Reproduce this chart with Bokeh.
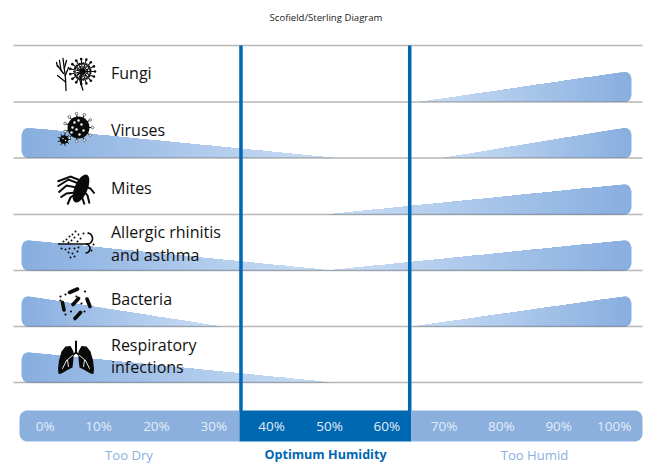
import numpy as np
from bokeh.plotting import figure
from bokeh.models import Range1d
from bokeh.core.properties import value
from bokeh.embed import file_html
from bokeh.resources import INLINE

# ---- data ----
factors = ["Fungi", "Viruses", "Mites", "Allergic rhinitis and asthma", "Bacteria", "Respiratory infections"]
dry_zero = [None, 50.7, None, 50.0, 30.8, 50.0]       # humidity where the dry-side risk reaches zero
humid_zero = [66.0, 70.0, 49.8, 50.0, 64.8, None]     # humidity where the humid-side risk begins
tick_values = [0.4, 9.7, 19.8, 29.8, 39.9, 50.0, 60.0, 70.0, 80.0, 90.0, 99.7]
tick_labels = ["0%", "10%", "20%", "30%", "40%", "50%", "60%", "70%", "80%", "90%", "100%"]
zone_names = ["Too Dry", "Optimum Humidity", "Too Humid"]
opt_low, opt_high = 34.55, 64.0

FONT = "Open Sans"
BLUE = "#0067b1"
LIGHT = "#8bb0de"
TIP = (205, 224, 246)
EDGE = (137, 175, 224)

PX = 5.73
def hum(px):
    return 50 + (np.asarray(px, dtype=float) - 329) / PX

p = figure(width=646, height=463, output_backend="svg", toolbar_location=None,
           x_range=Range1d(float(hum(0)), float(hum(646))), y_range=Range1d(463, 0),
           min_border=0, x_axis_type=None, y_axis_type=None)
p.extra_x_ranges["px"] = Range1d(0, 646)
p.grid.visible = False
p.outline_line_color = None
p.background_fill_color = "white"

row_top = 45.0
baselines = [101.5, 157.5, 214.0, 270.0, 326.0, 382.0]
WEDGE_H = 30.0


def wedge_strips(outer, tip, base):
    """Slices of a rounded wedge, painted from the wide end to the tip so that no seam shows."""
    sign = 1 if tip > outer else -1
    span = abs(tip - outer)
    r = 6.5
    d = np.linspace(0, span, 160)
    line = base - WEDGE_H * (1 - np.clip(d - r, 0, None) / (span - r))
    arc = np.sqrt(np.clip(r**2 - (r - np.clip(d, 0, r))**2, 0, None))
    top = np.where(d < r, base - WEDGE_H + r - arc, line)
    bot = np.where(d < r, base - r + arc, base)
    xs, ys, cs = [], [], []
    n = int(span / 4)
    for k in range(n):
        t = k / n
        m = d >= t * span
        xs.append(hum(outer + sign * d[m]).tolist() + hum(outer + sign * d[m][::-1]).tolist())
        ys.append(top[m].tolist() + bot[m][::-1].tolist())
        c = [int(EDGE[i] + (TIP[i] - EDGE[i]) * t) for i in range(3)]
        cs.append("#%02x%02x%02x" % tuple(c))
    return xs, ys, cs


HUM_TO_PX = lambda h: 329 + PX * (h - 50)
for b, dz, hz in zip(baselines, dry_zero, humid_zero):
    if dz is not None:
        xs, ys, cs = wedge_strips(21.0, HUM_TO_PX(dz), b)
        p.patches(xs, ys, fill_color=cs, line_color=None)
    if hz is not None:
        xs, ys, cs = wedge_strips(631.0, HUM_TO_PX(hz), b)
        p.patches(xs, ys, fill_color=cs, line_color=None)

# row rules
for y in [row_top] + baselines:
    p.line([13, 642], [y, y], x_range_name="px", line_color="#6f6f6f", line_alpha=0.5, line_width=1.5)

# optimum zone boundaries
for h in (opt_low, opt_high):
    p.line([h, h], [45, 411], line_color=BLUE, line_width=3.5)


# scale bar
def rounded_bar(x0, x1, y0, y1, r, left, right):
    a = np.linspace(0, np.pi / 2, 10)
    xs, ys = [], []
    if left:
        xs += list(x0 + r - r * np.cos(a)); ys += list(y0 + r - r * np.sin(a))
    else:
        xs += [x0]; ys += [y0]
    if right:
        xs += list(x1 - r + r * np.sin(a)); ys += list(y0 + r - r * np.cos(a))
        xs += list(x1 - r + r * np.cos(a)); ys += list(y1 - r + r * np.sin(a))
    else:
        xs += [x1, x1]; ys += [y0, y1]
    if left:
        xs += list(x0 + r - r * np.sin(a)); ys += list(y1 - r + r * np.cos(a))
    else:
        xs += [x0]; ys += [y1]
    return xs, ys

lo, hi = HUM_TO_PX(opt_low) - 1.5, HUM_TO_PX(opt_high) + 1.7
for x0, x1, c, l, r in [(19, lo, LIGHT, True, False), (lo, hi, BLUE, False, False), (hi, 642, LIGHT, False, True)]:
    bx, by = rounded_bar(x0, x1, 410, 441, 8, l, r)
    p.patch(bx, by, x_range_name="px", fill_color=c, line_color=None)

p.text(tick_values, [425] * 11, text=tick_labels, text_font=value(FONT), text_font_size="13.5px",
       text_color="#e3ecf8", text_align="center", text_baseline="middle")

# title and zones
p.text([325.5], [16.5], text=["Scofield/Sterling Diagram"], x_range_name="px", text_font=value(FONT),
       text_font_size="9.6px", text_color="#222222", text_align="center", text_baseline="middle")
p.text([128.5, 534], [454, 454], text=[zone_names[0], zone_names[2]], x_range_name="px", text_font=value(FONT),
       text_font_size="13.1px", text_color=LIGHT, text_align="center", text_baseline="middle")
p.text([325], [454], text=[zone_names[1]], x_range_name="px", text_font=value(FONT), text_font_style="bold",
       text_font_size="12.6px", text_color=BLUE, text_align="center", text_baseline="middle")

# row names
name_lines = [("Fungi", 72), ("Viruses", 129), ("Mites", 187), ("Allergic rhinitis", 231), ("and asthma", 254),
              ("Bacteria", 298), ("Respiratory", 344), ("infections", 366)]
p.text([110.5] * 8, [n[1] for n in name_lines], text=[n[0] for n in name_lines], x_range_name="px",
       text_font=value(FONT), text_font_size="16px", text_color="#111111", text_align="left", text_baseline="middle")


# ---- pictograms ----
K = "#0a0a0a"
def seg(pairs, w=1.5, c=K):
    p.multi_line([[a[0], a[2]] for a in pairs], [[a[1], a[3]] for a in pairs], x_range_name="px",
                 line_color=c, line_width=w, line_cap="round")
def dots(pts, r=1.0, c=K):
    p.circle([a[0] for a in pts], [a[1] for a in pts], radius=r, radius_units="screen", x_range_name="px",
             fill_color=c, line_color=None)

# fungi: branching mould
seg([(65.5, 90, 65, 78), (65, 78, 62.5, 58), (57, 65, 63, 73), (57, 75, 64.5, 81), (66, 60, 63.8, 68),
     (68, 67, 64.8, 75), (57, 66, 56, 62), (59, 60, 60.5, 70)], 1.3)
# fungi: spore head
ang = np.arange(0, 2 * np.pi, 2 * np.pi / 15)
seg([(82, 71, 82 + 12 * np.cos(a), 71 + 12 * np.sin(a)) for a in ang], 1.1)
dots([(82 + 12.5 * np.cos(a), 71 + 12.5 * np.sin(a)) for a in ang], 1.3)
dots([(82 + 8 * np.cos(a + .2), 71 + 8 * np.sin(a + .2)) for a in ang], 1.2)
dots([(82 + 5 * np.cos(a + .1), 71 + 5 * np.sin(a + .1)) for a in ang[::2]], 1.0)
dots([(82, 71)], 3)
p.line([81, 79.5, 81, 82.5], [73, 80, 85, 90], x_range_name="px", line_color=K, line_width=1.3)

# viruses
ang = np.arange(0, 2 * np.pi, 2 * np.pi / 11)
seg([(78 + 10 * np.cos(a), 127 + 10 * np.sin(a), 78 + 13 * np.cos(a), 127 + 13 * np.sin(a)) for a in ang], 1.0)
p.circle([78 + 14 * np.cos(a) for a in ang], [127 + 14 * np.sin(a) for a in ang], radius=1.3, radius_units="screen",
         x_range_name="px", fill_color="white", line_color="#555555", line_width=0.8)
dots([(78, 127)], 11)
dots([(81, 124), (74, 122), (83, 130), (76, 129), (72, 127), (79, 134), (78, 120), (71, 132)], 1.2, "white")
ang = np.arange(0, 2 * np.pi, 2 * np.pi / 9)
seg([(63.5, 139, 63.5 + 6.2 * np.cos(a), 139 + 6.2 * np.sin(a)) for a in ang], 0.9)
dots([(63.5, 139)], 4.3)
dots([(62.5, 138), (65, 140)], 0.7, "white")

# mites
p.ellipse([80.5], [188], width=[30], height=[13], angle=[1.17], x_range_name="px", fill_color=K, line_color=None)
legs = [[(80, 180, 70, 176, 57, 181)], [(78, 183, 68, 179, 57, 186)], [(76, 187, 66, 185, 58, 192)],
        [(75, 192, 66, 193, 60, 197)], [(76, 193, 70, 197, 67, 204)], [(84, 186, 90, 188, 94, 193)],
        [(83, 190, 87, 195, 89, 203)], [(81, 193, 82, 198, 84, 204)]]
for l in legs:
    a = l[0]
    p.line([a[0], a[2], a[4]], [a[1], a[3], a[5]], x_range_name="px", line_color=K, line_width=2.0, line_join="miter")

# allergic rhinitis: wind and pollen
seg([(58, 243.5, 87, 243.5)], 1.4)
a1 = np.linspace(-np.pi / 2, np.pi / 2, 14)
p.line(87 + 5 * np.cos(a1), 238 + 5.5 * np.sin(a1), x_range_name="px", line_color=K, line_width=1.6)
p.line(85 + 4.5 * np.cos(a1), 248 + 4.5 * np.sin(a1), x_range_name="px", line_color=K, line_width=1.6)
dots([(75, 231), (78, 234), (72, 234), (69, 236), (74, 237), (80, 238), (66, 239), (71, 240), (77, 241), (83, 233),
      (63, 241), (68, 242), (61, 248), (65, 249), (69, 248), (74, 248), (78, 247), (68, 252), (72, 253), (77, 251),
      (70, 257), (74, 256), (93, 244), (91, 250)], 1.0)

# bacteria
seg([(69, 292, 77, 288.5), (72.5, 304, 78, 298), (86.5, 298.5, 89.5, 306), (62, 302, 63.5, 309.5), (74.5, 318, 80, 312)], 3.6)
dots([(60, 296), (65, 294), (84.5, 291), (70.5, 311), (65, 314), (84, 311), (76, 296), (81, 303), (60, 300)], 1.1)

# respiratory infections: lungs
lx = [73, 70, 65, 61, 58.5, 57.5, 58, 61, 67, 72, 73]
ly = [351, 345.5, 346, 351, 360, 368, 373.5, 373, 369.5, 367, 358]
p.patch(lx, ly, x_range_name="px", fill_color=K, line_color=None)
rx = [151 - v for v in lx]
p.patch(rx, ly, x_range_name="px", fill_color=K, line_color=None)
seg([(75.5, 341, 75.5, 352), (75.5, 352, 70, 356), (75.5, 352, 81, 356)], 2.0)
seg([(72, 355, 66, 360), (66, 360, 62, 368), (67, 360, 68, 366), (79, 355, 85, 360), (85, 360, 89, 368), (84, 360, 83, 366)], 0.9, "white")

open("out.html", "w").write(file_html(p, INLINE))
